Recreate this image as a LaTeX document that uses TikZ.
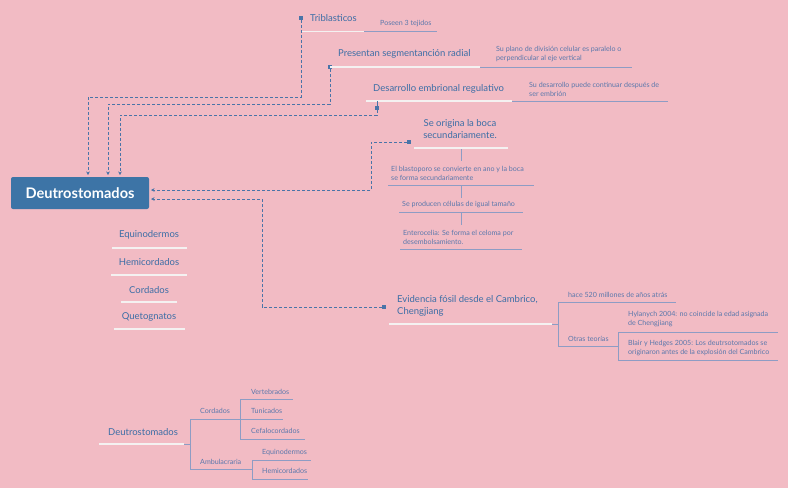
\documentclass[tikz,border=0pt]{standalone}
\usepackage{fontspec}
\setmainfont{Lato}
\usetikzlibrary{arrows.meta}
\definecolor{bg}{HTML}{F2BBC4}
\definecolor{boxblue}{HTML}{3D74A6}
\definecolor{tblue}{HTML}{3C6EA6}
\definecolor{sblue}{HTML}{5B78AC}
\definecolor{lgray}{HTML}{8E9CC4}
\definecolor{wline}{HTML}{F4F1F1}
\definecolor{dashc}{HTML}{4A74A8}
\begin{document}
\begin{tikzpicture}[x=1pt,y=-1pt,
 title/.style={font=\fontsize{9.5}{11.5}\selectfont, text=tblue, inner sep=0pt, anchor=west, align=left},
 ltitle/.style={font=\fontsize{9.5}{10}\selectfont, text=tblue, inner sep=0pt, anchor=center},
 small/.style={font=\fontsize{7.1}{9}\selectfont, text=sblue, inner sep=0pt, anchor=west, align=left},
 wl/.style={draw=wline, line width=1.8pt},
 gl/.style={draw=lgray, line width=0.6pt},
 dl/.style={draw=dashc, line width=0.8pt, dash pattern=on 3pt off 2pt},
 arr/.style={-{Stealth[length=3.5pt,width=3.5pt]}},
 mk/.style={fill=dashc, minimum size=3.5pt, inner sep=0pt, draw=none}
]
\fill[bg] (0,0) rectangle (788,488);
\useasboundingbox (0,0) rectangle (788,488);

% main box
\node[fill=boxblue, rounded corners=2pt, minimum width=138pt, minimum height=32pt, text=white, inner sep=0pt,
  font=\bfseries\fontsize{14.6}{16}\selectfont] (main) at (80,193) {Deutrostomados};
\coordinate (in1) at (88,175);
\coordinate (in2) at (108,175);
\coordinate (in3) at (120,175);
\coordinate (inL1) at (151,190);
\coordinate (inL2) at (151,199);

% Triblasticos
\node[title] (tri) at (310,18) {Triblasticos};
\node[mk] (mtri) at (301,18) {};
\coordinate (tri1) at (301,31.5); \coordinate (tri2) at (364,31.5); \coordinate (tri3) at (437,31.5);
\draw[wl] (tri1) -- (tri2);
\draw[gl] (tri2) -- (tri3);
\node[small] (pos) at (380,24) {Poseen 3 tejidos};
\draw[dl,arr] (mtri) -- (301,97) -- (88,97) -- (in1);

% Presentan segmentacion radial
\node[title] (seg) at (338,54) {Presentan segmentanción radial};
\node[mk] (mseg) at (330,67) {};
\coordinate (seg1) at (330,67); \coordinate (seg2) at (480,67); \coordinate (seg3) at (632,67);
\draw[wl] (seg1) -- (seg2);
\draw[gl] (seg2) -- (seg3);
\node[small] (segd) at (496,54.5) {Su plano de división celular es paralelo o\\perpendicular al eje vertical};
\draw[dl,arr] (mseg) -- (330,104) -- (108,104) -- (in2);

% Desarrollo embrional regulativo
\node[title] (des) at (373,89) {Desarrollo embrional regulativo};
\coordinate (des1) at (366,101); \coordinate (des2) at (512,101); \coordinate (des3) at (668,101);
\draw[wl] (des1) -- (des2);
\draw[gl] (des2) -- (des3);
\node[small] (desd) at (529,89) {Su desarrollo puede continuar después de\\ser embrión};
\node[mk] (mdes) at (377,108) {};
\coordinate (desstem) at (377,101);
\draw[draw=dashc, line width=0.8pt] (desstem) -- (mdes);
\draw[dl,arr] (mdes) -- (377,115) -- (120,115) -- (in3);

% Se origina la boca
\node[title, anchor=center, align=center] (boca) at (460,129) {Se origina la boca\\secundariamente.};
\coordinate (boc1) at (414,148); \coordinate (boc2) at (508,148);
\draw[wl] (boc1) -- (boc2);
\node[mk] (mboca) at (409,142) {};
\draw[dl,arr] (mboca) -- (371,142) -- (371,190) -- (inL1);

\coordinate (v1a) at (461,149); \coordinate (v1b) at (461,161);
\draw[gl] (v1a) -- (v1b);
\node[small] (c1) at (391,173) {El blastoporo se convierte en ano y la boca\\se forma secundariamente};
\coordinate (c1a) at (388,185); \coordinate (c1b) at (534,185);
\draw[gl] (c1a) -- (c1b);
\coordinate (v2a) at (461,185); \coordinate (v2b) at (461,198);
\draw[gl] (v2a) -- (v2b);
\node[small] (c2) at (402,205) {Se producen células de igual tamaño};
\coordinate (c2a) at (399,212.5); \coordinate (c2b) at (523,212.5);
\draw[gl] (c2a) -- (c2b);
\coordinate (v3a) at (461,212.5); \coordinate (v3b) at (461,225);
\draw[gl] (v3a) -- (v3b);
\node[small] (c3) at (403,237.5) {Enterocelia: Se forma el celoma por\\desembolsamiento.};
\coordinate (c3a) at (400,249); \coordinate (c3b) at (522,249);
\draw[gl] (c3a) -- (c3b);

% Evidencia fosil
\node[title] (evi) at (397,306) {Evidencia fósil desde el Cambrico,\\Chengjiang};
\node[mk] (mevi) at (384,307) {};
\draw[dl,arr] (mevi) -- (262,307) -- (262,199) -- (inL2);
\coordinate (ev1) at (389,324); \coordinate (ev2) at (552,324); \coordinate (ev3) at (558,324);
\draw[wl] (ev1) -- (ev2);
\draw[gl] (ev2) -- (ev3);
\coordinate (evt) at (558,302); \coordinate (evb) at (558,346);
\draw[gl] (evt) -- (evb);
\coordinate (hac2) at (676,302);
\draw[gl] (evt) -- (hac2);
\node[small] (hace) at (568,295) {hace 520 millones de años atrás};
\coordinate (ot2) at (618,346);
\draw[gl] (evb) -- (ot2);
\node[small] (otras) at (568,339) {Otras teorías};
\coordinate (ott) at (618,332); \coordinate (otb) at (618,360);
\coordinate (ott2) at (778,332); \coordinate (otb2) at (778,360);
\draw[gl] (ott) -- (otb);
\draw[gl] (ott) -- (ott2);
\draw[gl] (otb) -- (otb2);
\node[small] (hyl) at (628,319.5) {Hylanych 2004: no coincide la edad asignada\\de Chengjiang};
\node[small] (bla) at (628,348) {Blair y Hedges 2005: Los deutrsotomados se\\originaron antes de la explosión del Cambrico};

% left list
\node[ltitle] (l1) at (149,235) {Equinodermos};
\coordinate (l1a) at (112,248); \coordinate (l1b) at (187,248);
\draw[wl] (l1a) -- (l1b);
\node[ltitle] (l2) at (149,262) {Hemicordados};
\coordinate (l2a) at (111,275); \coordinate (l2b) at (187,275);
\draw[wl] (l2a) -- (l2b);
\node[ltitle] (l3) at (149,290) {Cordados};
\coordinate (l3a) at (121,302); \coordinate (l3b) at (177,302);
\draw[wl] (l3a) -- (l3b);
\node[ltitle] (l4) at (149,317) {Quetognatos};
\coordinate (l4a) at (114,329); \coordinate (l4b) at (185,329);
\draw[wl] (l4a) -- (l4b);

% bottom tree
\node[title] (bd) at (108,432) {Deutrostomados};
\coordinate (bd1) at (99,444); \coordinate (bd2) at (184,444); \coordinate (bd3) at (190,444);
\draw[wl] (bd1) -- (bd2);
\draw[gl] (bd2) -- (bd3);
\coordinate (bt) at (190,419); \coordinate (bb) at (190,469);
\draw[gl] (bt) -- (bb);
\coordinate (cor2) at (240,419);
\draw[gl] (bt) -- (cor2);
\node[small] (cor) at (200,411) {Cordados};
\coordinate (cort) at (240,399); \coordinate (corb) at (240,439);
\draw[gl] (cort) -- (corb);
\coordinate (ver2) at (293,399); \coordinate (tun2) at (283,419); \coordinate (cef2) at (305,439);
\draw[gl] (cort) -- (ver2);
\draw[gl] (cor2) -- (tun2);
\draw[gl] (corb) -- (cef2);
\node[small] (ver) at (251,392) {Vertebrados};
\node[small] (tun) at (251,411) {Tunicados};
\node[small] (cef) at (251,431) {Cefalocordados};
\coordinate (amb2) at (252,469);
\draw[gl] (bb) -- (amb2);
\node[small] (amb) at (200,462) {Ambulacraria};
\coordinate (ambt) at (252,460); \coordinate (ambb) at (252,479);
\draw[gl] (ambt) -- (ambb);
\coordinate (equ2) at (311,460); \coordinate (hem2) at (308,479);
\draw[gl] (ambt) -- (equ2);
\draw[gl] (ambb) -- (hem2);
\node[small] (equ) at (262,452) {Equinodermos};
\node[small] (hem) at (262,471) {Hemicordados};
\end{tikzpicture}
\end{document}
